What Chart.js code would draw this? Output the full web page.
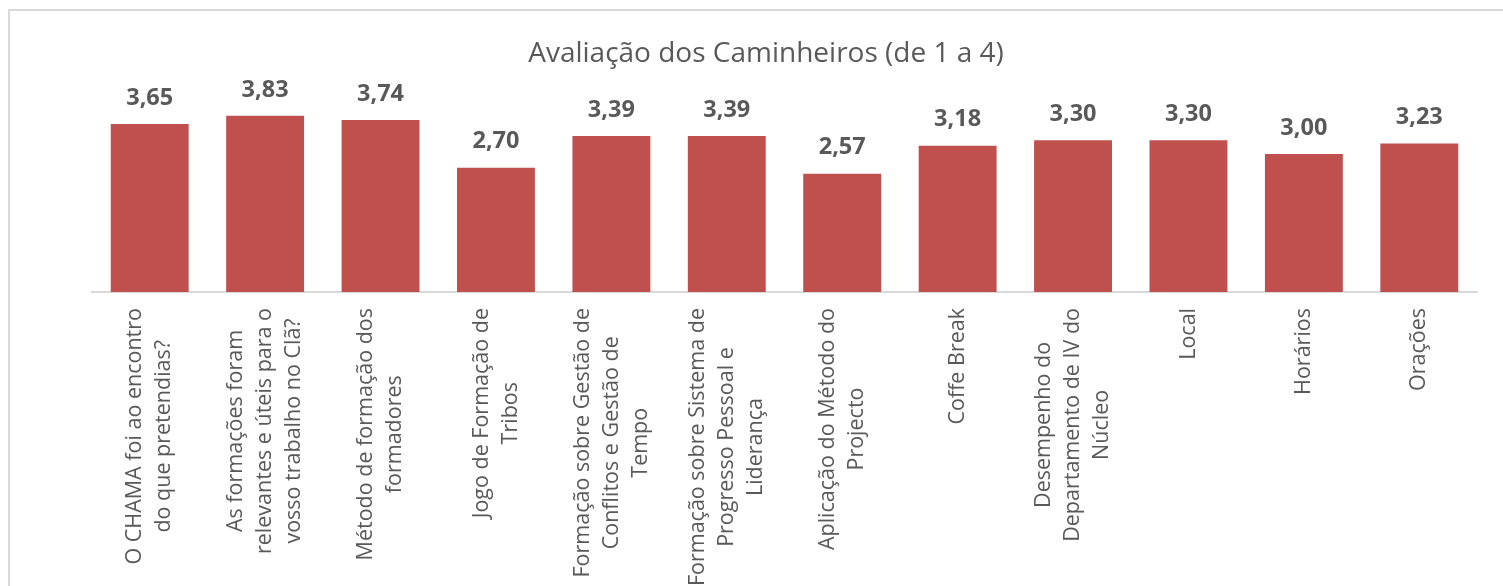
<!DOCTYPE html>
<html>
<head>
<meta charset="utf-8">
<script src="https://cdn.jsdelivr.net/npm/chart.js@4.4.0/dist/chart.umd.min.js"></script>
<style>
  html, body { margin: 0; padding: 0; background: #fff; overflow: hidden; }
  #frame { position: absolute; left: 8px; top: 9px; width: 1600px; height: 700px; border: 2px solid #d9d9d9; box-sizing: border-box; }
  #vis { position: absolute; left: 0; top: 0; width: 1503px; height: 586px; }
</style>
</head>
<body>
<div id="frame"></div>
<div id="vis"><canvas id="myChart" width="1503" height="586"></canvas></div>
<script>
// categories (each one split in lines like the original)
const categories = [
  ["O CHAMA foi ao encontro", "do que pretendias?"],
  ["As formações foram", "relevantes e úteis para o", "vosso trabalho no Clã?"],
  ["Método de formação dos", "formadores"],
  ["Jogo de Formação de", "Tribos"],
  ["Formação sobre Gestão de", "Conflitos e Gestão de", "Tempo"],
  ["Formação sobre Sistema de", "Progresso Pessoal e", "Liderança"],
  ["Aplicação do Método do", "Projecto"],
  ["Coffe Break"],
  ["Desempenho do", "Departamento de IV do", "Núcleo"],
  ["Local"],
  ["Horários"],
  ["Orações"]
];
const scores = [3.65, 3.83, 3.74, 2.70, 3.39, 3.39, 2.57, 3.18, 3.30, 3.30, 3.00, 3.23];
const chartTitle = "Avaliação dos Caminheiros (de 1 a 4)";

const grey = '#595959';
const fmt = v => v.toFixed(2).replace('.', ',');

// value labels above the bars
const valueLabels = {
  id: 'valueLabels',
  afterDatasetsDraw(chart) {
    const ctx = chart.ctx;
    const meta = chart.getDatasetMeta(0);
    ctx.save();
    ctx.font = 'bold 23.5px "Open Sans"';
    ctx.fillStyle = grey;
    ctx.textAlign = 'center';
    ctx.textBaseline = 'middle';
    meta.data.forEach((bar, i) => {
      ctx.fillText(fmt(chart.data.datasets[0].data[i]), bar.x, bar.y - 26);
    });
    ctx.restore();
  }
};

// vertical category labels, lines centered like Excel does
const catLabels = {
  id: 'catLabels',
  afterDraw(chart) {
    const ctx = chart.ctx;
    const xs = chart.scales.x;
    ctx.save();
    ctx.font = '21.5px "Open Sans"';
    ctx.fillStyle = grey;
    ctx.textAlign = 'center';
    ctx.textBaseline = 'middle';
    chart.data.labels.forEach((lines, i) => {
      const px = xs.getPixelForTick(i);
      const w = Math.max(...lines.map(l => ctx.measureText(l).width));
      const cy = xs.top + 16 + w / 2;
      lines.forEach((l, j) => {
        ctx.save();
        ctx.translate(px + (j - (lines.length - 1) / 2) * 29, cy);
        ctx.rotate(-Math.PI / 2);
        ctx.fillText(l, 0, 0);
        ctx.restore();
      });
    });
    ctx.restore();
  }
};

const ctx = document.getElementById('myChart');
const myChart = new Chart(ctx, {
  type: 'bar',
  data: {
    labels: categories,
    datasets: [{
      data: scores,
      backgroundColor: '#C0504D',
      borderWidth: 0,
      barPercentage: 0.675,
      categoryPercentage: 1
    }]
  },
  options: {
    responsive: false,
    animation: false,
    devicePixelRatio: 1,
    layout: { padding: { left: 55, right: 26, top: 0, bottom: 0 } },
    plugins: {
      legend: { display: false },
      tooltip: { enabled: false },
      title: {
        display: true,
        text: chartTitle,
        color: grey,
        font: { family: 'Open Sans', size: 28, weight: 'normal' },
        padding: { top: 37, bottom: 14.4 }
      }
    },
    scales: {
      y: {
        min: 0, max: 4.5,
        grid: { display: false },
        border: { display: false },
        ticks: { display: false },
        afterFit(scale) { scale.width = 37; }
      },
      x: {
        grid: { display: false },
        border: { display: true, color: '#d9d9d9', width: 2 },
        ticks: { display: false },
        afterFit(scale) { scale.height = 294; }
      }
    }
  },
  plugins: [valueLabels, catLabels]
});
</script>
</body>
</html>
